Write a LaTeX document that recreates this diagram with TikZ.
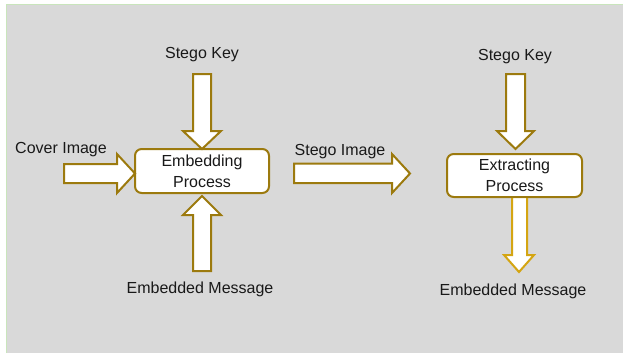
\documentclass[tikz,border=0pt]{standalone}
\usepackage{fontspec}
\setmainfont{Liberation Sans}
\definecolor{bggray}{HTML}{D9D9D9}
\definecolor{bggreen}{HTML}{C9E5BC}
\definecolor{golddark}{HTML}{9C7A0E}
\definecolor{goldlight}{HTML}{D4A512}
\tikzset{
  lbl/.style={font=\fontsize{12}{15.5}\selectfont, text=black!90, inner sep=0pt},
  procbox/.style={draw=golddark, line width=1.5pt, fill=white, rounded corners=5pt,
    font=\fontsize{12}{16}\selectfont, text=black!90, align=center, inner sep=0pt},
  blockarrow/.style={draw=golddark, line width=1.5pt, fill=white, line join=miter},
}
\begin{document}
\begin{tikzpicture}[x=0.75pt,y=-0.75pt]
\useasboundingbox (0,0) rectangle (623,353);
\fill[white] (0,0) rectangle (623,353);
\fill[bggray] (6,4) rectangle (623,353);
\draw[bggreen, line width=1.2pt] (6.5,353) -- (6.5,4.5) -- (623,4.5);

% process boxes
\node[procbox, minimum width=134*0.75pt, minimum height=44*0.75pt] (emb) at (202,171) {Embedding\\Process};
\node[procbox, minimum width=135*0.75pt, minimum height=43*0.75pt] (ext) at (514.5,175.5) {Extracting\\Process};

% labels
\node[lbl] (key1) at (202,55) {Stego Key};
\node[lbl] (key2) at (515,57) {Stego Key};
\node[lbl] (cover) at (61,150) {Cover Image};
\node[lbl] (stego) at (340,152) {Stego Image};
\node[lbl] (msg1) at (200,289) {Embedded Message};
\node[lbl] (msg2) at (513,291) {Embedded Message};

% Stego key -> embedding (down)
\draw[blockarrow] (193,74) -- (211,74) -- (211,131) -- (221,131) -- (202,149) -- (183,131) -- (193,131) -- cycle;
% Embedded message -> embedding (up)
\draw[blockarrow] (193,271) -- (211,271) -- (211,215) -- (221,215) -- (202,196) -- (183,215) -- (193,215) -- cycle;
% Cover image -> embedding (right)
\draw[blockarrow] (64,164) -- (117,164) -- (117,154) -- (135,173.5) -- (117,193) -- (117,183) -- (64,183) -- cycle;
% Stego image arrow (right)
\draw[blockarrow] (294,163.5) -- (392,163.5) -- (392,154) -- (410,173.5) -- (392,193) -- (392,183) -- (294,183) -- cycle;
% Stego key -> extracting (down)
\draw[blockarrow] (506,74) -- (525,74) -- (525,131) -- (534,131) -- (515.5,149) -- (497,131) -- (506,131) -- cycle;
% Extracting -> embedded message (down)
\draw[blockarrow, draw=goldlight] (512,197) -- (527,197) -- (527,255) -- (534,255) -- (519,272) -- (504,255) -- (512,255) -- cycle;
% redraw box edge over arrow top
\draw[golddark, line width=1.5pt] (510,197.3) -- (529,197.3);
\end{tikzpicture}
\end{document}
